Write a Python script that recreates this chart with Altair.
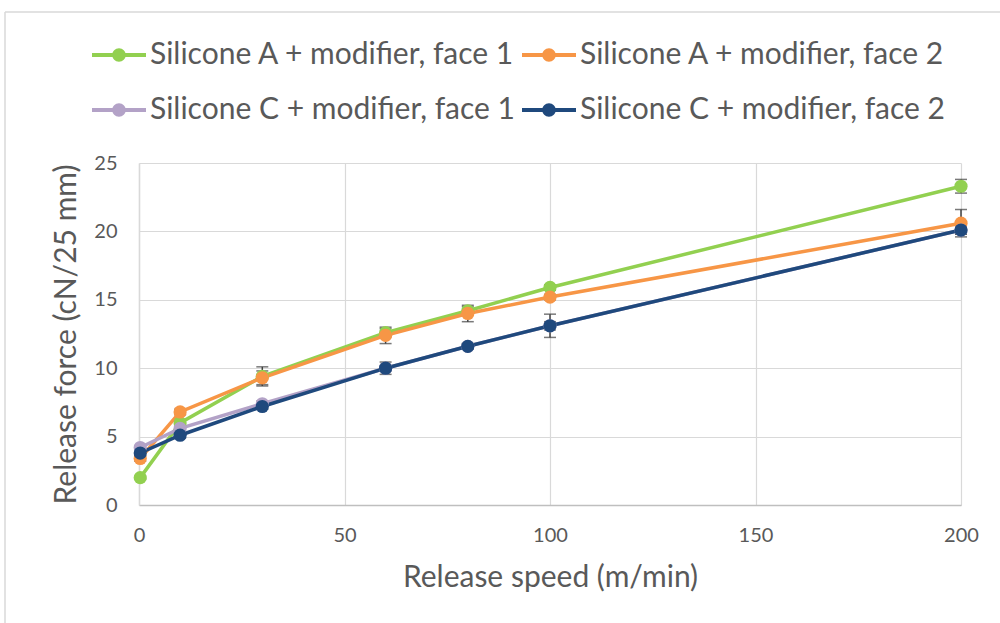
import altair as alt
import pandas as pd

# Release force vs. release speed for two modified silicones, both faces
speeds = [0.3, 10, 30, 60, 80, 100, 200]
series_names = [
    "Silicone A + modifier, face 1",
    "Silicone A + modifier, face 2",
    "Silicone C + modifier, face 1",
    "Silicone C + modifier, face 2",
]
series_colors = ["#92D050", "#F79646", "#B3A2C7", "#1F497D"]

force_a1 = [2.0, 6.0, 9.4, 12.6, 14.2, 15.9, 23.3]
force_a2 = [3.4, 6.8, 9.3, 12.4, 14.0, 15.2, 20.6]
force_c1 = [4.2, 5.6, 7.4, 10.0, 11.6, 13.1, 20.1]
force_c2 = [3.8, 5.1, 7.2, 10.0, 11.6, 13.1, 20.1]

err_a1 = [0.1, 0.2, 0.7, 0.3, 0.3, 0.2, 0.5]
err_a2 = [0.2, 0.2, 0.5, 0.6, 0.6, 0.2, 1.0]
err_c1 = [0.1, 0.2, 0.2, 0.2, 0.2, 0.3, 0.3]
err_c2 = [0.1, 0.2, 0.2, 0.45, 0.2, 0.85, 0.3]

forces = [force_a1, force_a2, force_c1, force_c2]
errors = [err_a1, err_a2, err_c1, err_c2]

rows = []
for name, fs, es in zip(series_names, forces, errors):
    for s, f, e in zip(speeds, fs, es):
        rows.append({"series": name, "speed": s, "force": f,
                     "lo": f - e, "hi": f + e})
df = pd.DataFrame(rows)

FONT = "Lato"
TEXT = "#595959"
GRID = "#D9D9D9"

# legend symbol: a short line with a dot in the middle
sym = ("M-1,-0.07H-0.24V0.07H-1Z "
       "M0.24,-0.07H1V0.07H0.24Z "
       "M-0.25,0A0.25,0.25 0 1,1 0.25,0A0.25,0.25 0 1,1 -0.25,0Z")

legend = alt.Legend(
    title=None, orient="none", legendX=-47, legendY=-135, columns=2,
    direction="horizontal",
    symbolType=sym, symbolSize=2916, symbolStrokeWidth=0,
    labelFont=FONT, labelFontSize=30, labelColor=TEXT, labelLimit=600,
    labelOffset=4, columnPadding=6, rowPadding=13,
)

color = alt.Color("series:N", sort=series_names,
                  scale=alt.Scale(domain=series_names, range=series_colors),
                  legend=legend)

x = alt.X("speed:Q", title="Release speed (m/min)",
          scale=alt.Scale(domain=[0, 200], nice=False),
          axis=alt.Axis(values=[0, 50, 100, 150, 200], format="d",
                        labelFlush=False))
y = alt.Y("force:Q", title="Release force (cN/25 mm)",
          scale=alt.Scale(domain=[0, 25], nice=False),
          axis=alt.Axis(values=[0, 5, 10, 15, 20, 25], labelFlush=False))

base = alt.Chart(df)

err_rule = base.mark_rule(color="#404040", strokeWidth=1.5).encode(
    x=x, y="lo:Q", y2="hi:Q")
err_cap_lo = base.mark_tick(color="#404040", thickness=1.5, size=12,
                            orient="horizontal").encode(x=x, y="lo:Q")
err_cap_hi = base.mark_tick(color="#404040", thickness=1.5, size=12,
                            orient="horizontal").encode(x=x, y="hi:Q")

lines = base.mark_line(strokeWidth=3.5).encode(x=x, y=y, color=color,
                                               order="speed:Q")
points = base.mark_point(filled=True, size=175, opacity=1).encode(
    x=x, y=y, color=color)

# outer chart frame (left and top edges)
frame_left = alt.Chart(pd.DataFrame({"k": [0]})).mark_rule(
    color=GRID, strokeWidth=1.5).encode(
    x=alt.value(-134), y=alt.value(-151), y2=alt.value(470))
frame_top = alt.Chart(pd.DataFrame({"k": [0]})).mark_rule(
    color=GRID, strokeWidth=1.5).encode(
    x=alt.value(-134), x2=alt.value(870), y=alt.value(-151))

chart = alt.layer(
    frame_left, frame_top, err_rule, err_cap_lo, err_cap_hi, lines, points
).properties(
    width=822, height=342,
    autosize=alt.AutoSizeParams(type="none"),
    padding={"left": 139, "top": 163, "right": 39, "bottom": 118},
    background="white",
).configure_view(
    stroke=None
).configure_axis(
    labelFont=FONT, labelFontSize=20, labelColor=TEXT,
    titleFont=FONT, titleFontSize=30, titleColor=TEXT, titleFontWeight="normal",
    grid=True, gridColor=GRID, gridWidth=1.2,
    domainColor="#BFBFBF", domainWidth=1.5, ticks=False,
).configure_axisX(
    labelPadding=20, titlePadding=17,
).configure_axisY(
    labelPadding=22, titlePadding=12, domainColor=GRID,
)

chart.save("out.html", embed_options={"renderer": "svg", "actions": False})
